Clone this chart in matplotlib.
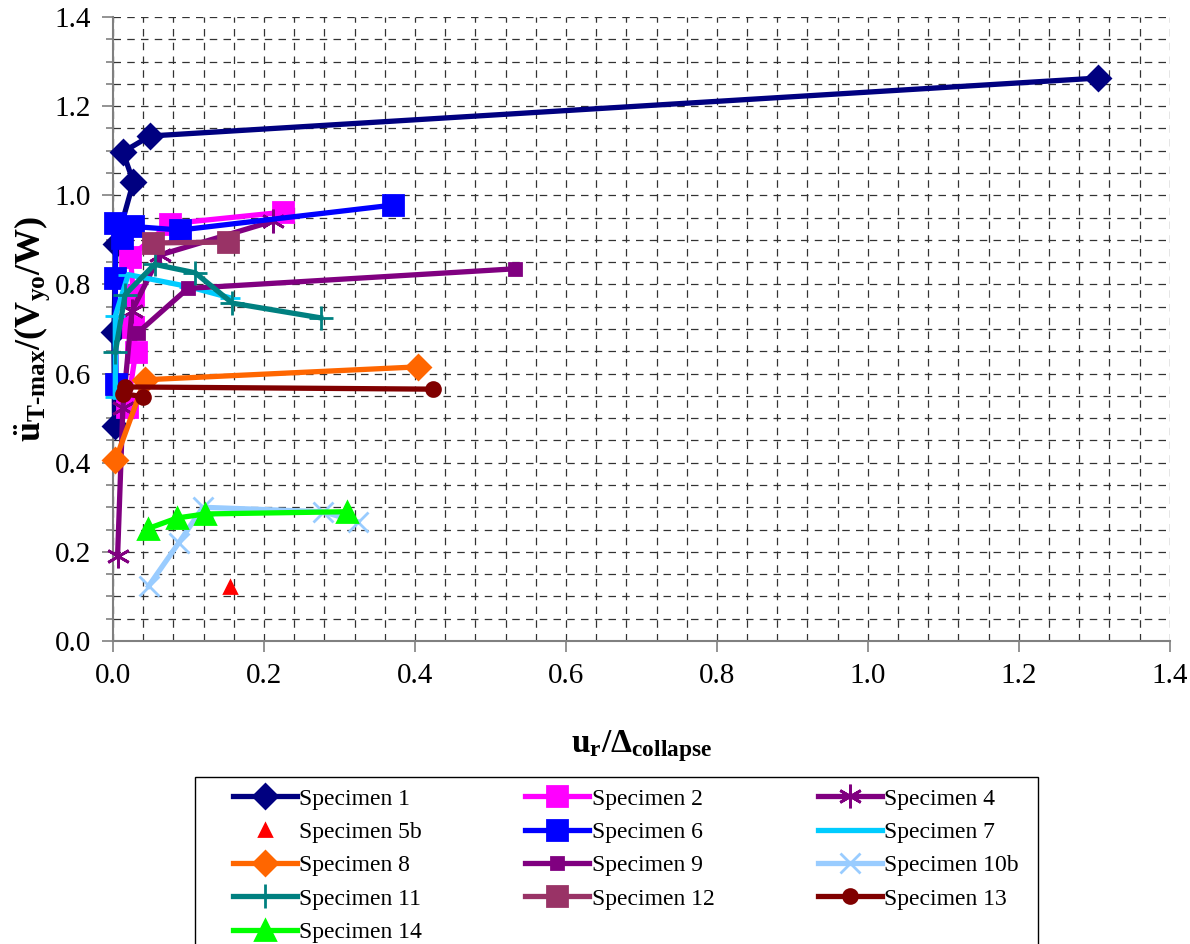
import matplotlib
matplotlib.use("Agg")
import matplotlib.pyplot as plt
from matplotlib.patches import Rectangle
from matplotlib.ticker import MultipleLocator, FormatStrFormatter

plt.rcParams['font.family'] = ['Liberation Serif', 'DejaVu Serif']
plt.rcParams['mathtext.fontset'] = 'custom'
plt.rcParams['mathtext.rm'] = 'Liberation Serif'
plt.rcParams['mathtext.bf'] = 'Liberation Serif:bold'
plt.rcParams['mathtext.it'] = 'Liberation Serif:italic'

# data (x = u_r / collapse drift, y = normalised accel)
s1_x = [0.002, 0.001, 0.004, 0.027, 0.013, 0.049, 1.305]
s1_y = [0.482, 0.693, 0.891, 1.030, 1.097, 1.133, 1.263]
s2_x = [0.019, 0.030, 0.027, 0.027, 0.023, 0.075, 0.225]
s2_y = [0.525, 0.648, 0.705, 0.776, 0.862, 0.936, 0.962]
s4_x = [0.006, 0.013, 0.025, 0.062, 0.212]
s4_y = [0.190, 0.523, 0.740, 0.866, 0.942]
s5b_x = [0.155]
s5b_y = [0.120]
s6_x = [0.004, 0.003, 0.003, 0.012, 0.027, 0.089, 0.371]
s6_y = [0.577, 0.815, 0.938, 0.905, 0.930, 0.922, 0.978]
s7_x = [0.003, 0.003, 0.020, 0.100, 0.155]
s7_y = [0.547, 0.729, 0.822, 0.795, 0.770]
s8_x = [0.003, 0.042, 0.404]
s8_y = [0.405, 0.586, 0.615]
s9_x = [0.033, 0.099, 0.532]
s9_y = [0.692, 0.791, 0.835]
s10b_x = [0.047, 0.087, 0.119, 0.278, 0.325]
s10b_y = [0.123, 0.220, 0.300, 0.290, 0.267]
s11_x = [0.003, 0.016, 0.055, 0.109, 0.158, 0.275]
s11_y = [0.648, 0.777, 0.845, 0.826, 0.758, 0.725]
s12_x = [0.053, 0.152]
s12_y = [0.893, 0.895]
s13_x = [0.040, 0.013, 0.016, 0.424]
s13_y = [0.548, 0.555, 0.570, 0.565]
s14_x = [0.046, 0.085, 0.122, 0.310]
s14_y = [0.252, 0.276, 0.285, 0.290]

asterisk = (6, 2, 0)

series = [
    ('Specimen 1', s1_x, s1_y, '#000080', 'D', 12, '-'),
    ('Specimen 2', s2_x, s2_y, '#FF00FF', 's', 14, '-'),
    ('Specimen 4', s4_x, s4_y, '#800080', asterisk, 17, '-'),
    ('Specimen 5b', s5b_x, s5b_y, '#FF0000', '^', 9, 'none'),
    ('Specimen 6', s6_x, s6_y, '#0000FF', 's', 14, '-'),
    ('Specimen 7', s7_x, s7_y, '#00CCFF', '_', 14, '-'),
    ('Specimen 8', s8_x, s8_y, '#FF6600', 'D', 12, '-'),
    ('Specimen 9', s9_x, s9_y, '#800080', 's', 8, '-'),
    ('Specimen 10b', s10b_x, s10b_y, '#99CCFF', 'x', 14, '-'),
    ('Specimen 11', s11_x, s11_y, '#008080', '+', 17, '-'),
    ('Specimen 12', s12_x, s12_y, '#993366', 's', 14, '-'),
    ('Specimen 13', s13_x, s13_y, '#800000', 'o', 10, '-'),
    ('Specimen 14', s14_x, s14_y, '#00FF00', '^', 14, '-'),
]

fig = plt.figure(figsize=(11.9, 9.44), dpi=100)
ax = fig.add_axes([0.095, 0.321, 0.888, 0.661])

handles = {}
for name, xs, ys, col, mk, ms, ls in series:
    h, = ax.plot(xs, ys, color=col, linestyle=ls, linewidth=3.8, marker=mk,
                 markersize=ms, markeredgewidth=2.0, markeredgecolor=col,
                 markerfacecolor=col, label=name, zorder=3, clip_on=False)
    handles[name] = h

ax.set_xlim(0, 1.4)
ax.set_ylim(0, 1.4)
ax.xaxis.set_major_locator(MultipleLocator(0.2))
ax.xaxis.set_minor_locator(MultipleLocator(0.04))
ax.yaxis.set_major_locator(MultipleLocator(0.2))
ax.yaxis.set_minor_locator(MultipleLocator(0.05))
ax.xaxis.set_major_formatter(FormatStrFormatter('%.1f'))
ax.yaxis.set_major_formatter(FormatStrFormatter('%.1f'))
ax.grid(True, which='both', color='#333333', linestyle=(0, (6, 5)), linewidth=0.9, zorder=0)
ax.set_axisbelow(True)

for side in ['top', 'right']:
    ax.spines[side].set_visible(False)
for side in ['left', 'bottom']:
    ax.spines[side].set_color('#808080')
    ax.spines[side].set_linewidth(1.5)

ax.tick_params(axis='both', which='major', labelsize=21, direction='out',
               length=8, width=1.2, color='#808080', pad=8)
ax.tick_params(axis='y', which='minor', direction='out', length=5, width=1.2, color='#808080')
ax.tick_params(axis='x', which='minor', length=0)

ax.set_xlabel(r'$\mathbf{u_r/\Delta_{collapse}}$', fontsize=24, labelpad=28)
ax.set_ylabel(r'$\mathbf{\ddot{u}_{T{‐}max}/(V_{yo}/W)}$', fontsize=26, labelpad=2)

# legend box drawn by hand, running off the bottom edge like the original
fig.patches.append(Rectangle((195 / 1190, -0.05), (1038 - 195) / 1190, 0.05 + 1 - 777 / 944,
                             transform=fig.transFigure, fill=False, edgecolor='black',
                             linewidth=1.0))

order = ['Specimen 1', 'Specimen 5b', 'Specimen 8', 'Specimen 11', 'Specimen 14',
         'Specimen 2', 'Specimen 6', 'Specimen 9', 'Specimen 12',
         'Specimen 4', 'Specimen 7', 'Specimen 10b', 'Specimen 13']
leg = fig.legend([handles[n] for n in order], order, ncol=3, loc='upper left',
                 bbox_to_anchor=(233 / 1190, 1 - 788 / 944), fontsize=17, frameon=False,
                 handlelength=2.71, handletextpad=0.1, columnspacing=4.37,
                 labelspacing=0.5, borderpad=0, borderaxespad=0)

fig.savefig('out.png', dpi=100)
